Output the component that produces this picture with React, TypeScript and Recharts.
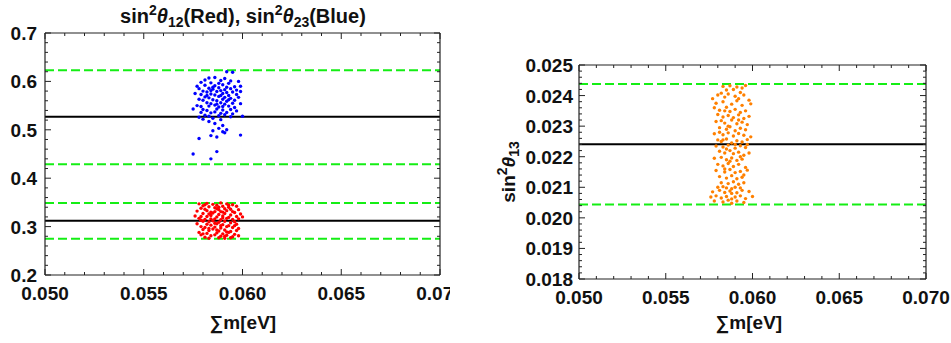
import React from 'react';
import { ScatterChart, Scatter, XAxis, YAxis, ReferenceLine } from 'recharts';

// sum of masses axis (shared by both panels)
const X_MAJOR = [0.05, 0.055, 0.06, 0.065, 0.07];
const X_MINOR_STEP = 0.001;

// left panel: sin^2 theta12 / theta23
const LEFT_Y_MAJOR = [0.2, 0.3, 0.4, 0.5, 0.6, 0.7];
const LEFT_Y_MINOR_STEP = 0.02;
const T23_BAND = [0.429, 0.623];
const T23_BEST = 0.527;
const T12_BAND = [0.275, 0.349];
const T12_BEST = 0.312;

// right panel: sin^2 theta13
const RIGHT_Y_MAJOR = [0.018, 0.019, 0.02, 0.021, 0.022, 0.023, 0.024, 0.025];
const RIGHT_Y_MINOR_STEP = 0.0002;
const T13_BAND = [0.02044, 0.02438];
const T13_BEST = 0.02241;

const BLUE_PTS = [
  [0.0592, 0.620], [0.0595, 0.619], [0.0583, 0.607], [0.0581, 0.603], [0.0586, 0.608], [0.0591, 0.606],
  [0.0589, 0.602], [0.0594, 0.601], [0.0598, 0.600], [0.0579, 0.598], [0.0584, 0.597], [0.0588, 0.596],
  [0.0593, 0.596], [0.0577, 0.590], [0.0581, 0.592], [0.0586, 0.591], [0.0590, 0.593], [0.0596, 0.589],
  [0.0599, 0.590], [0.0578, 0.585], [0.0583, 0.586], [0.0585, 0.584], [0.0588, 0.587], [0.0591, 0.583],
  [0.0594, 0.585], [0.0597, 0.582], [0.0580, 0.580], [0.0582, 0.578], [0.0587, 0.579], [0.0589, 0.581],
  [0.0592, 0.577], [0.0595, 0.578], [0.0599, 0.579], [0.0576, 0.575], [0.0579, 0.573], [0.0584, 0.574],
  [0.0586, 0.572], [0.0590, 0.575], [0.0593, 0.571], [0.0597, 0.573], [0.0581, 0.568], [0.0583, 0.566],
  [0.0588, 0.569], [0.0591, 0.567], [0.0594, 0.565], [0.0598, 0.567], [0.0578, 0.563], [0.0580, 0.561],
  [0.0585, 0.562], [0.0587, 0.560], [0.0590, 0.563], [0.0592, 0.559], [0.0596, 0.561], [0.0582, 0.556],
  [0.0584, 0.554], [0.0589, 0.556], [0.0591, 0.553], [0.0595, 0.555], [0.0599, 0.554], [0.0577, 0.550],
  [0.0579, 0.548], [0.0583, 0.549], [0.0586, 0.551], [0.0588, 0.547], [0.0593, 0.549], [0.0596, 0.546],
  [0.0575, 0.543], [0.0580, 0.542], [0.0582, 0.540], [0.0587, 0.543], [0.0590, 0.541], [0.0594, 0.542],
  [0.0597, 0.539], [0.0579, 0.536], [0.0584, 0.535], [0.0586, 0.537], [0.0589, 0.534], [0.0592, 0.536],
  [0.0595, 0.533], [0.0581, 0.530], [0.0583, 0.528], [0.0588, 0.529], [0.0591, 0.531], [0.0594, 0.527],
  [0.0578, 0.526], [0.0580, 0.522], [0.0585, 0.524], [0.0589, 0.521], [0.0600, 0.528], [0.0583, 0.517],
  [0.0586, 0.513], [0.0590, 0.509], [0.0588, 0.503], [0.0592, 0.500], [0.0585, 0.498], [0.0590, 0.496],
  [0.0591, 0.494], [0.0578, 0.482], [0.0584, 0.488], [0.0587, 0.485], [0.0599, 0.489], [0.0575, 0.450],
  [0.0587, 0.455], [0.0584, 0.440], [0.0585, 0.588], [0.0589, 0.571], [0.0587, 0.553], [0.0592, 0.588],
  [0.0582, 0.571], [0.0590, 0.548], [0.0584, 0.581], [0.0593, 0.562],
];

const RED_PTS = [
  [0.0578, 0.347], [0.0582, 0.348], [0.0585, 0.346], [0.0589, 0.349], [0.0592, 0.347], [0.0595, 0.345],
  [0.0580, 0.343], [0.0583, 0.341], [0.0587, 0.344], [0.0590, 0.342], [0.0593, 0.340], [0.0597, 0.342],
  [0.0579, 0.338], [0.0581, 0.336], [0.0586, 0.339], [0.0588, 0.335], [0.0591, 0.337], [0.0594, 0.336],
  [0.0598, 0.335], [0.0577, 0.332], [0.0582, 0.333], [0.0584, 0.330], [0.0589, 0.331], [0.0592, 0.333],
  [0.0596, 0.329], [0.0580, 0.327], [0.0583, 0.326], [0.0585, 0.328], [0.0588, 0.325], [0.0591, 0.327],
  [0.0594, 0.324], [0.0599, 0.326], [0.0576, 0.322], [0.0579, 0.321], [0.0584, 0.323], [0.0587, 0.320],
  [0.0590, 0.322], [0.0593, 0.319], [0.0597, 0.321], [0.0600, 0.320], [0.0578, 0.317], [0.0581, 0.315],
  [0.0586, 0.316], [0.0589, 0.314], [0.0592, 0.317], [0.0595, 0.315], [0.0598, 0.316], [0.0580, 0.311],
  [0.0583, 0.310], [0.0585, 0.312], [0.0588, 0.309], [0.0591, 0.311], [0.0594, 0.308], [0.0596, 0.310],
  [0.0577, 0.306], [0.0582, 0.305], [0.0584, 0.303], [0.0587, 0.306], [0.0590, 0.304], [0.0593, 0.302],
  [0.0597, 0.305], [0.0579, 0.300], [0.0581, 0.298], [0.0586, 0.299], [0.0589, 0.297], [0.0592, 0.300],
  [0.0595, 0.298], [0.0598, 0.296], [0.0580, 0.294], [0.0583, 0.292], [0.0585, 0.295], [0.0588, 0.291],
  [0.0591, 0.293], [0.0594, 0.290], [0.0597, 0.292], [0.0578, 0.288], [0.0582, 0.286], [0.0587, 0.287],
  [0.0590, 0.285], [0.0593, 0.288], [0.0596, 0.284], [0.0579, 0.283], [0.0584, 0.281], [0.0586, 0.283],
  [0.0589, 0.280], [0.0592, 0.282], [0.0595, 0.279], [0.0598, 0.281], [0.0581, 0.278], [0.0583, 0.276],
  [0.0588, 0.277], [0.0591, 0.276], [0.0594, 0.277], [0.0581, 0.345], [0.0587, 0.337], [0.0584, 0.327],
  [0.0579, 0.313], [0.0590, 0.318], [0.0586, 0.307], [0.0583, 0.296], [0.0592, 0.289], [0.0589, 0.302],
  [0.0595, 0.331], [0.0582, 0.321], [0.0593, 0.344], [0.0586, 0.331], [0.0588, 0.340], [0.0590, 0.330],
  [0.0584, 0.316], [0.0596, 0.302], [0.0580, 0.285], [0.0587, 0.293], [0.0591, 0.280],
];

const ORANGE_PTS = [
  [0.0583, 0.02430], [0.0587, 0.02432], [0.0591, 0.02428], [0.0594, 0.02425], [0.0596, 0.02433], [0.0585, 0.02418],
  [0.0589, 0.02420], [0.0577, 0.02390], [0.0580, 0.02402], [0.0582, 0.02408], [0.0584, 0.02395], [0.0586, 0.02405],
  [0.0590, 0.02398], [0.0593, 0.02410], [0.0595, 0.02402], [0.0598, 0.02385], [0.0579, 0.02375], [0.0583, 0.02380],
  [0.0588, 0.02372], [0.0591, 0.02383], [0.0594, 0.02368], [0.0599, 0.02373], [0.0578, 0.02360], [0.0581, 0.02352],
  [0.0585, 0.02362], [0.0587, 0.02348], [0.0590, 0.02355], [0.0593, 0.02345], [0.0596, 0.02350], [0.0580, 0.02338],
  [0.0583, 0.02330], [0.0586, 0.02335], [0.0589, 0.02328], [0.0592, 0.02337], [0.0595, 0.02325], [0.0598, 0.02332],
  [0.0579, 0.02315], [0.0582, 0.02318], [0.0584, 0.02310], [0.0588, 0.02320], [0.0591, 0.02308], [0.0594, 0.02313],
  [0.0597, 0.02305], [0.0581, 0.02295], [0.0585, 0.02290], [0.0587, 0.02298], [0.0590, 0.02285], [0.0593, 0.02293],
  [0.0596, 0.02288], [0.0578, 0.02275], [0.0583, 0.02272], [0.0586, 0.02278], [0.0589, 0.02268], [0.0592, 0.02276],
  [0.0595, 0.02270], [0.0599, 0.02265], [0.0580, 0.02255], [0.0582, 0.02250], [0.0585, 0.02258], [0.0588, 0.02245],
  [0.0591, 0.02252], [0.0594, 0.02248], [0.0597, 0.02256], [0.0579, 0.02235], [0.0583, 0.02232], [0.0586, 0.02238],
  [0.0590, 0.02228], [0.0593, 0.02236], [0.0596, 0.02230], [0.0581, 0.02218], [0.0584, 0.02212], [0.0587, 0.02220],
  [0.0589, 0.02210], [0.0592, 0.02215], [0.0595, 0.02205], [0.0598, 0.02212], [0.0578, 0.02195], [0.0582, 0.02198],
  [0.0585, 0.02190], [0.0588, 0.02196], [0.0591, 0.02188], [0.0594, 0.02192], [0.0580, 0.02175], [0.0583, 0.02170],
  [0.0586, 0.02178], [0.0589, 0.02168], [0.0592, 0.02175], [0.0596, 0.02165], [0.0579, 0.02155], [0.0584, 0.02150],
  [0.0587, 0.02158], [0.0590, 0.02148], [0.0593, 0.02152], [0.0597, 0.02156], [0.0581, 0.02135], [0.0585, 0.02130],
  [0.0588, 0.02138], [0.0591, 0.02128], [0.0594, 0.02133], [0.0582, 0.02115], [0.0586, 0.02112], [0.0589, 0.02118],
  [0.0592, 0.02110], [0.0595, 0.02115], [0.0580, 0.02100], [0.0583, 0.02102], [0.0585, 0.02098], [0.0588, 0.02095],
  [0.0590, 0.02100], [0.0593, 0.02098], [0.0577, 0.02085], [0.0581, 0.02090], [0.0584, 0.02083], [0.0587, 0.02088],
  [0.0591, 0.02082], [0.0594, 0.02090], [0.0598, 0.02086], [0.0576, 0.02068], [0.0579, 0.02072], [0.0582, 0.02065],
  [0.0585, 0.02070], [0.0588, 0.02062], [0.0590, 0.02068], [0.0593, 0.02072], [0.0596, 0.02063], [0.0600, 0.02070],
  [0.0578, 0.02055], [0.0583, 0.02052], [0.0586, 0.02058], [0.0588, 0.02048], [0.0591, 0.02055], [0.0595, 0.02050],
  [0.0584, 0.02350], [0.0592, 0.02390], [0.0586, 0.02300], [0.0583, 0.02255], [0.0590, 0.02240], [0.0585, 0.02225],
  [0.0593, 0.02200], [0.0587, 0.02185], [0.0584, 0.02160], [0.0595, 0.02140], [0.0588, 0.02080], [0.0592, 0.02320],
  [0.0581, 0.02280], [0.0597, 0.02240],
];

const toXY = (pts: number[][]) => pts.map(([x, y]) => ({ x, y }));

const stepTicks = (lo: number, hi: number, step: number) => {
  const out: number[] = [];
  const n = Math.round((hi - lo) / step);
  for (let i = 0; i <= n; i++) out.push(+(lo + i * step).toFixed(6));
  return out;
};

const FONT = '"Liberation Sans", Arial, sans-serif';
const GREEN = '#14ee14';
const FRAME = '#222';
const TICK_FS = 19;

type Side = 'bottom' | 'top' | 'left' | 'right';

// Mathematica-like frame ticks: pointing inward, labels only on bottom/left majors
const frameTick = (side: Side, majors: number[], digits: number, labelGap = 8) => (props: any) => {
  const { x, y, payload } = props;
  const v = payload.value;
  const major = majors.some((m) => Math.abs(m - v) < 1e-9);
  const len = major ? 6 : 3;
  let line;
  if (side === 'bottom') line = <line x1={x} x2={x} y1={y} y2={y - len} />;
  else if (side === 'top') line = <line x1={x} x2={x} y1={y} y2={y + len} />;
  else if (side === 'left') line = <line x1={x} x2={x + len} y1={y} y2={y} />;
  else line = <line x1={x} x2={x - len} y1={y} y2={y} />;
  return (
    <g>
      <g stroke={FRAME} strokeWidth={1}>{line}</g>
      {major && side === 'bottom' && (
        <text x={x} y={y + 25} textAnchor="middle" fontFamily={FONT} fontWeight="bold" fontSize={TICK_FS} fill="#111">
          {v.toFixed(3)}
        </text>
      )}
      {major && side === 'left' && (
        <text x={x - labelGap} y={y + 7} textAnchor="end" fontFamily={FONT} fontWeight="bold" fontSize={TICK_FS} fill="#111">
          {v.toFixed(digits)}
        </text>
      )}
    </g>
  );
};

const dot = (color: string) => (p: any) => <circle cx={p.cx} cy={p.cy} r={1.7} fill={color} />;

const xTicks = stepTicks(0.05, 0.07, X_MINOR_STEP);

interface PanelProps {
  width: number;
  height: number;
  margin: { top: number; right: number; bottom: number; left: number };
  xAxisHeight: number;
  yAxisWidth: number;
  yDomain: [number, number];
  yTicks: number[];
  yMajor: number[];
  yDigits: number;
  labelGap: number;
  children: React.ReactNode;
}

const Panel: React.FC<PanelProps> = ({ width, height, margin, xAxisHeight, yAxisWidth, yDomain, yTicks, yMajor, yDigits, labelGap, children }) => (
  <ScatterChart width={width} height={height} margin={margin}>
    <XAxis
      type="number" dataKey="x" domain={[0.05, 0.07]} allowDataOverflow ticks={xTicks} interval={0}
      height={xAxisHeight} tickSize={0} tickMargin={0} tickLine={false}
      axisLine={{ stroke: FRAME, strokeWidth: 1.2 }}
      tick={frameTick('bottom', X_MAJOR, 3)}
    />
    <XAxis
      xAxisId="top" orientation="top" type="number" dataKey="x" domain={[0.05, 0.07]} allowDataOverflow
      ticks={xTicks} interval={0} height={1} tickSize={0} tickMargin={0} tickLine={false}
      axisLine={{ stroke: FRAME, strokeWidth: 1.2 }}
      tick={frameTick('top', X_MAJOR, 3)}
    />
    <YAxis
      type="number" dataKey="y" domain={yDomain} allowDataOverflow ticks={yTicks} interval={0}
      width={yAxisWidth} tickSize={0} tickMargin={0} tickLine={false}
      axisLine={{ stroke: FRAME, strokeWidth: 1.2 }}
      tick={frameTick('left', yMajor, yDigits, labelGap)}
    />
    <YAxis
      yAxisId="right" orientation="right" type="number" dataKey="y" domain={yDomain} allowDataOverflow
      ticks={yTicks} interval={0} width={1} tickSize={0} tickMargin={0} tickLine={false}
      axisLine={{ stroke: FRAME, strokeWidth: 1.2 }}
      tick={frameTick('right', yMajor, yDigits)}
    />
    {children}
  </ScatterChart>
);

const App: React.FC = () => {
  const blue = toXY(BLUE_PTS);
  const red = toXY(RED_PTS);
  const orange = toXY(ORANGE_PTS);
  return (
    <div style={{ position: 'absolute', left: 0, top: 0, width: 951, height: 343, background: '#fff' }}>
      <div style={{ position: 'absolute', left: 0, top: 0 }}>
        <Panel
          width={450} height={343} margin={{ top: 32, right: 9, bottom: 0, left: 0 }}
          xAxisHeight={68} yAxisWidth={45} yDomain={[0.2, 0.7]} yTicks={stepTicks(0.2, 0.7, LEFT_Y_MINOR_STEP)}
          yMajor={LEFT_Y_MAJOR} yDigits={1} labelGap={8}
        >
          <Scatter data={blue} fill="#0000ff" shape={dot('#0000ff')} isAnimationActive={false} />
          <Scatter data={red} fill="#ff0000" shape={dot('#ff0000')} isAnimationActive={false} />
          {T23_BAND.map((v) => (
            <ReferenceLine key={'b' + v} y={v} stroke={GREEN} strokeWidth={2} strokeDasharray="9 4" />
          ))}
          {T12_BAND.map((v) => (
            <ReferenceLine key={'r' + v} y={v} stroke={GREEN} strokeWidth={2} strokeDasharray="9 4" />
          ))}
          <ReferenceLine y={T23_BEST} stroke="#000" strokeWidth={2} />
          <ReferenceLine y={T12_BEST} stroke="#000" strokeWidth={2} />
        </Panel>
      </div>
      <div style={{ position: 'absolute', left: 480, top: 0 }}>
        <Panel
          width={471} height={343} margin={{ top: 64, right: 24, bottom: 0, left: 0 }}
          xAxisHeight={64} yAxisWidth={99} yDomain={[0.018, 0.025]} yTicks={stepTicks(0.018, 0.025, RIGHT_Y_MINOR_STEP)}
          yMajor={RIGHT_Y_MAJOR} yDigits={3} labelGap={6}
        >
          <Scatter data={orange} fill="#ff8000" shape={dot('#ff8000')} isAnimationActive={false} />
          {T13_BAND.map((v) => (
            <ReferenceLine key={'o' + v} y={v} stroke={GREEN} strokeWidth={2} strokeDasharray="9 4" />
          ))}
          <ReferenceLine y={T13_BEST} stroke="#000" strokeWidth={2} />
        </Panel>
      </div>
      <svg width={951} height={343} style={{ position: 'absolute', left: 0, top: 0, pointerEvents: 'none' }}>
        <text x={243} y={23} textAnchor="middle" fontFamily={FONT} fontWeight="bold" fontSize={20} fill="#111">
          sin<tspan dy={-8} fontSize={14}>2</tspan>
          <tspan dy={8} fontStyle="italic">θ</tspan>
          <tspan dy={4} fontSize={14}>12</tspan>
          <tspan dy={-4}>(Red), sin</tspan>
          <tspan dy={-8} fontSize={14}>2</tspan>
          <tspan dy={8} fontStyle="italic">θ</tspan>
          <tspan dy={4} fontSize={14}>23</tspan>
          <tspan dy={-4}>(Blue)</tspan>
        </text>
        <text x={243} y={329} textAnchor="middle" fontFamily={FONT} fontWeight="bold" fontSize={19} fill="#111">
          ∑m[eV]
        </text>
        <text x={749} y={329} textAnchor="middle" fontFamily={FONT} fontWeight="bold" fontSize={19} fill="#111">
          ∑m[eV]
        </text>
        <text
          x={0} y={0} transform="translate(515 172) rotate(-90)" textAnchor="middle"
          fontFamily={FONT} fontWeight="bold" fontSize={19} fill="#111"
        >
          sin<tspan dy={-8} fontSize={14}>2</tspan>
          <tspan dy={8} fontStyle="italic">θ</tspan>
          <tspan dy={4} fontSize={14}>13</tspan>
        </text>
      </svg>
    </div>
  );
};

export default App;
